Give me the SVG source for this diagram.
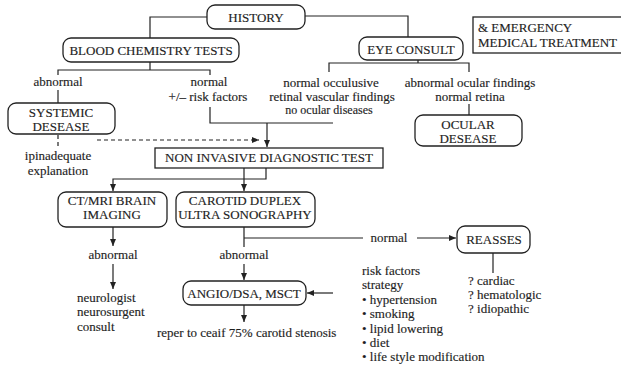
<svg xmlns="http://www.w3.org/2000/svg" width="621" height="370" viewBox="0 0 621 370" font-family="'Liberation Serif', 'Times New Roman', serif" font-size="13">
<defs>
<marker id="ah" markerUnits="userSpaceOnUse" markerWidth="8" markerHeight="6" refX="7" refY="3" orient="auto">
<path d="M0,0 L7,3 L0,6 z" fill="#222"/>
</marker>
<style>
text{font-family:'Liberation Serif','Times New Roman',serif;font-size:13px;fill:#1e1e1e;stroke:#1e1e1e;stroke-width:0.15}
.c{text-anchor:middle}
.s{font-size:12px}
.box{fill:none;stroke:#222;stroke-width:1.3}
.ln{fill:none;stroke:#222;stroke-width:1.2}
.ar{fill:none;stroke:#222;stroke-width:1.2;marker-end:url(#ah)}
.da{stroke-dasharray:4,3}
</style>
</defs>
<rect width="621" height="370" fill="#fff"/>

<g id="connectors">
<path class="ln" d="M207,17 H150 V38"/>
<path class="ln" d="M305,16 H408 V37"/>
<path class="ln" d="M150,62 V70 M58,75 V70 H210 V75"/>
<path class="ln" d="M418,60 V63 M329,72 V63 H469 V72"/>
<path class="ln" d="M58,90 V103"/>
<path class="ln" d="M469,104 V115"/>
<path class="ln da" d="M58,135 V147"/>
<path class="ar da" d="M97,140 H259"/>
<path class="ln" d="M210,107 V123 H333"/>
<path class="ar" d="M267,123 V147"/>
<path class="ar" d="M244,168 V191"/>
<path class="ar" d="M266,168 V179 H113 V191"/>
<path class="ar" d="M113,227 V246"/>
<path class="ar" d="M113,264 V289"/>
<path class="ln" d="M244,227 V247 M244,238 H363"/>
<path class="ar" d="M417,238 H456"/>
<path class="ar" d="M244,264 V280"/>
<path class="ar" d="M333,293 H307"/>
<path class="ar" d="M244,305 V322"/>
<path class="ln" d="M493,253 V273"/>
</g>

<g id="history">
<rect class="box" x="207" y="5" width="98" height="24" rx="8"/>
<text class="c" x="256" y="22">HISTORY</text>
</g>
<g id="blood">
<rect class="box" x="63" y="38" width="176" height="24" rx="8"/>
<text class="c" x="151" y="55">BLOOD CHEMISTRY TESTS</text>
</g>
<g id="eye">
<rect class="box" x="359" y="37" width="104" height="23" rx="8"/>
<text class="c" x="411" y="54">EYE CONSULT</text>
</g>
<g id="emergency">
<rect class="box" x="473" y="17" width="160" height="36"/>
<text x="478" y="32">&amp; EMERGENCY</text>
<text x="478" y="47">MEDICAL TREATMENT</text>
</g>
<g id="blood-abnormal">
<text class="c" x="58" y="86">abnormal</text>
</g>
<g id="blood-normal">
<text class="c" x="209" y="86">normal</text>
<text class="c" x="208" y="101">+/– risk factors</text>
</g>
<g id="eye-normal">
<text class="c" x="331" y="87">normal occulusive</text>
<text class="c" x="332" y="101">retinal vascular findings</text>
<text class="c s" x="329" y="114">no ocular diseases</text>
</g>
<g id="eye-abnormal">
<text class="c" x="470" y="87">abnormal ocular findings</text>
<text class="c" x="470" y="101">normal retina</text>
</g>
<g id="systemic">
<rect class="box" x="8" y="103" width="107" height="31" rx="8"/>
<text class="c" x="61" y="117">SYSTEMIC</text>
<text class="c" x="61" y="131">DESEASE</text>
</g>
<g id="ocular">
<rect class="box" x="415" y="115" width="107" height="31" rx="8"/>
<text class="c" x="468" y="129">OCULAR</text>
<text class="c" x="468" y="143">DESEASE</text>
</g>
<g id="inadequate">
<text class="c" x="58" y="160">ipinadequate</text>
<text class="c" x="58" y="175">explanation</text>
</g>
<g id="noninvasive">
<rect class="box" x="155" y="148" width="228" height="20"/>
<text class="c" x="269" y="162">NON INVASIVE DIAGNOSTIC TEST</text>
</g>
<g id="ctmri">
<rect class="box" x="58" y="192" width="109" height="35" rx="8"/>
<text class="c" x="112" y="205">CT/MRI BRAIN</text>
<text class="c" x="112" y="219">IMAGING</text>
</g>
<g id="carotid">
<rect class="box" x="176" y="192" width="139" height="35" rx="8"/>
<text class="c" x="245" y="205">CAROTID DUPLEX</text>
<text class="c" x="245" y="219">ULTRA SONOGRAPHY</text>
</g>
<g id="carotid-normal">
<text class="c" x="389" y="242">normal</text>
</g>
<g id="reasses">
<rect class="box" x="457" y="226" width="73" height="27" rx="8"/>
<text class="c" x="494" y="244">REASSES</text>
</g>
<g id="ct-abnormal">
<text class="c" x="113" y="259">abnormal</text>
</g>
<g id="carotid-abnormal">
<text class="c" x="244" y="259">abnormal</text>
</g>
<g id="neuro">
<text x="77" y="302">neurologist</text>
<text x="77" y="316">neurosurgent</text>
<text x="77" y="331">consult</text>
</g>
<g id="angio">
<rect class="box" x="183" y="281" width="123" height="24" rx="8"/>
<text class="c" x="244" y="298">ANGIO/DSA, MSCT</text>
</g>
<g id="refer">
<text x="157" y="337">reper to ceaif 75% carotid stenosis</text>
</g>
<g id="risk">
<text x="362" y="275">risk factors</text>
<text x="362" y="289">strategy</text>
<text x="362" y="304">• hypertension</text>
<text x="362" y="318">• smoking</text>
<text x="362" y="333">• lipid lowering</text>
<text x="362" y="347">• diet</text>
<text x="362" y="361">• life style modification</text>
</g>
<g id="causes">
<text x="468" y="285">? cardiac</text>
<text x="468" y="299">? hematologic</text>
<text x="468" y="313">? idiopathic</text>
</g>
</svg>
